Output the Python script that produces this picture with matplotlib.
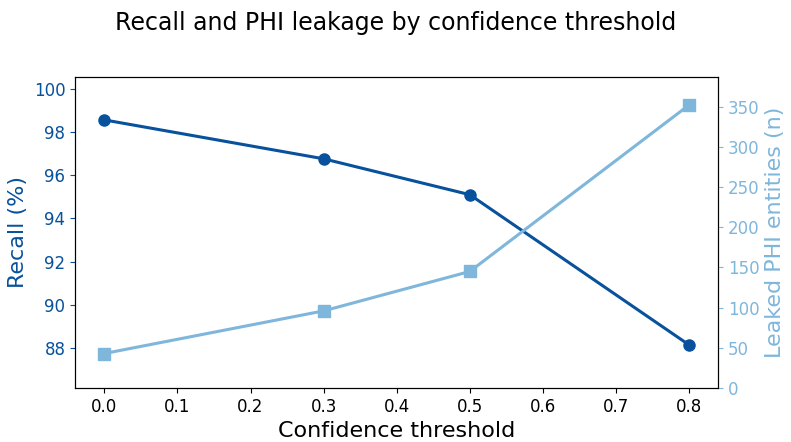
import matplotlib.pyplot as plt

thresholds = [0.0, 0.3, 0.5, 0.8]
recall = [98.56, 96.76, 95.1, 88.15]
leaked = [43, 96, 145, 352]

dark = '#08519c'
light = '#7fb6db'

fig, ax = plt.subplots(figsize=(7.91, 4.42), dpi=100)
fig.subplots_adjust(left=0.095, right=0.908, top=0.826, bottom=0.122)

ax.plot(thresholds, recall, color=dark, marker='o', markersize=8, linewidth=2.2)
ax.set_ylim(86.15, 100.55)
ax.set_xlim(-0.04, 0.84)
ax.set_ylabel('Recall (%)', color=dark, fontsize=16)
ax.set_xlabel('Confidence threshold', fontsize=16)
ax.tick_params(axis='y', colors=dark, labelsize=12)
ax.tick_params(axis='x', labelsize=12)

ax2 = ax.twinx()
ax2.plot(thresholds, leaked, color=light, marker='s', markersize=8, linewidth=2.2)
ax2.set_ylim(0, 387)
ax2.set_ylabel('Leaked PHI entities (n)', color=light, fontsize=16)
ax2.tick_params(axis='y', colors=light, labelsize=12)

fig.suptitle('Recall and PHI leakage by confidence threshold', fontsize=17, y=0.975)

plt.savefig('out.png')
